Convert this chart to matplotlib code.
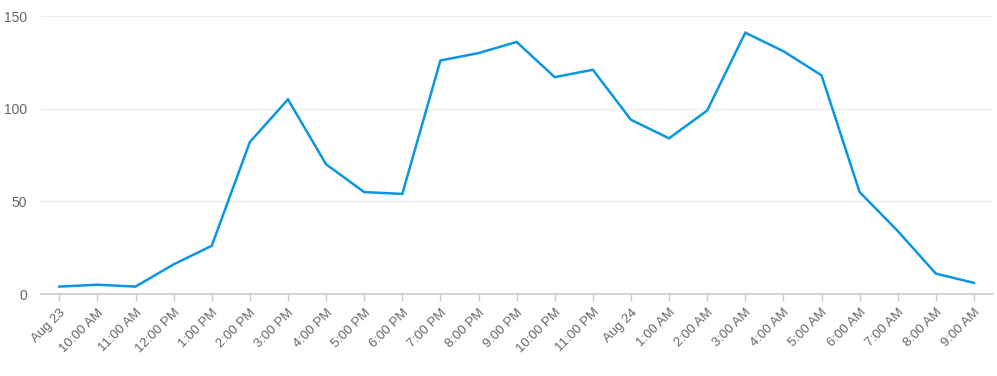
import numpy as np
import matplotlib.pyplot as plt

plt.rcParams['font.family'] = ['Liberation Sans', 'DejaVu Sans']

# hourly labels and counts
labels = ["Aug 23", "10:00 AM", "11:00 AM", "12:00 PM", "1:00 PM", "2:00 PM",
          "3:00 PM", "4:00 PM", "5:00 PM", "6:00 PM", "7:00 PM", "8:00 PM",
          "9:00 PM", "10:00 PM", "11:00 PM", "Aug 24", "1:00 AM", "2:00 AM",
          "3:00 AM", "4:00 AM", "5:00 AM", "6:00 AM", "7:00 AM", "8:00 AM",
          "9:00 AM"]
values = [4, 5, 4, 16, 26, 82, 105, 70, 55, 54, 126, 130, 136, 117, 121,
          94, 84, 99, 141, 131, 118, 55, 34, 11, 6]
yticks = [0, 50, 100, 150]

fig = plt.figure(figsize=(9.97, 3.76), dpi=100)
ax = fig.add_axes([41/997, 82/376, 952/997, 278/376])

x = np.arange(len(values))
ax.plot(x, values, color='#0b96e5', lw=1.8, solid_joinstyle='miter')

ax.set_xlim(-0.48, len(values) - 0.5)
ax.set_ylim(0, 150)
ax.set_yticks(yticks)
ax.set_xticks(x)
ax.set_xticklabels(labels, rotation=45, ha='right', rotation_mode='anchor')

ax.grid(axis='y', color='#eeeeee', lw=1)
ax.set_axisbelow(True)
for s in ['top', 'right', 'left']:
    ax.spines[s].set_visible(False)
ax.spines['bottom'].set_color('#cccccc')
ax.spines['bottom'].set_linewidth(1.2)

ax.tick_params(axis='x', colors='#cccccc', length=5, width=1, labelcolor='#666666',
               labelsize=9.5, pad=4)
ax.tick_params(axis='y', length=0, labelcolor='#666666', labelsize=10, pad=10)

fig.savefig('out.png', dpi=100)
